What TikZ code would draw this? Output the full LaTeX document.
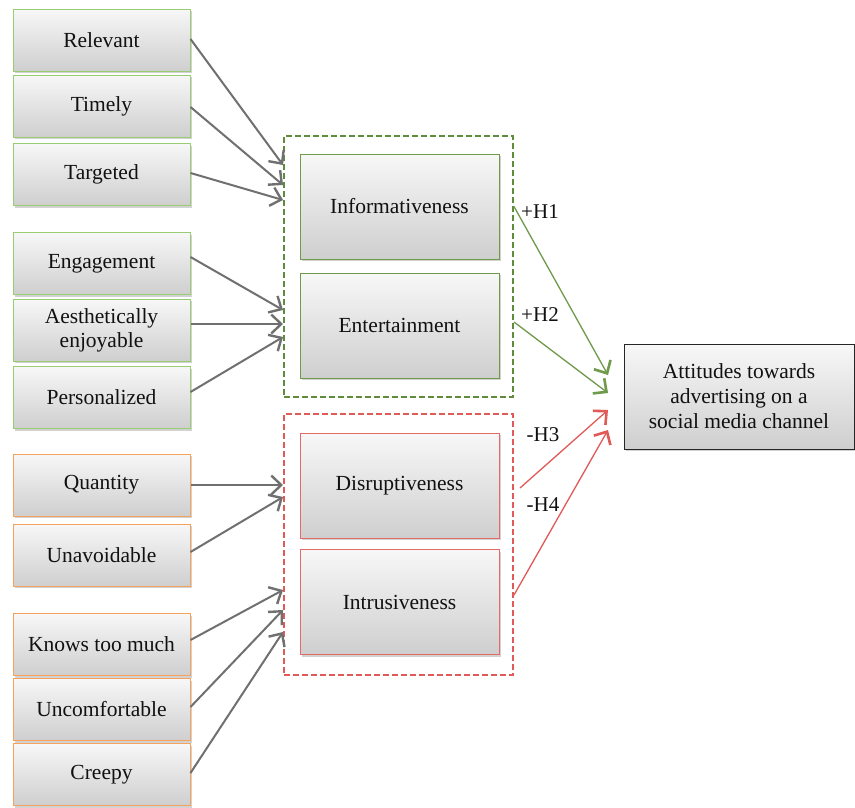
\documentclass[tikz,border=0pt]{standalone}
\usepackage{fontspec}
\setmainfont{Liberation Serif}
\usetikzlibrary{arrows.meta,shadows}
\definecolor{lgreen}{HTML}{9ACD72}
\definecolor{lorange}{HTML}{F5A35C}
\definecolor{dgreen}{HTML}{5E8C3A}
\definecolor{mgreen}{HTML}{6E9A4A}
\definecolor{lred}{HTML}{E46A66}
\definecolor{dred}{HTML}{E05A58}
\definecolor{agray}{HTML}{707070}
\definecolor{txt}{HTML}{111111}
\tikzset{
  box/.style={rectangle, top color=gray!6, bottom color=gray!38, line width=1pt,
    text=txt, align=center, font={\fontsize{21.5}{24}\selectfont},
    drop shadow={opacity=0.35, shadow xshift=1.5pt, shadow yshift=-2pt}},
  leftg/.style={box, draw=lgreen, minimum width=177pt, minimum height=62pt},
  lefto/.style={box, draw=lorange, minimum width=177pt, minimum height=62pt},
  midg/.style={box, draw=mgreen, minimum width=199pt, minimum height=105pt},
  midr/.style={box, draw=lred, minimum width=199pt, minimum height=105pt},
  group/.style={rectangle, dashed, dash pattern=on 6pt off 3pt, line width=2pt,
    minimum width=229pt, minimum height=261pt},
  garrow/.style={draw=agray, line width=2pt, -{Straight Barb[length=10pt,width=19pt,line width=2.4pt]}},
  harrow/.style={line width=1.3pt, -{Straight Barb[length=10pt,width=19pt,line width=2.6pt]}},
  hlabel/.style={text=txt, font={\fontsize{21}{23}\selectfont}, inner sep=0pt}
}
\begin{document}
\begin{tikzpicture}[x=1pt,y=-1pt]
\useasboundingbox[fill=white] (0,0) rectangle (855,807);

% left boxes
\node[leftg] (rel) at (101.5,40) {Relevant};
\node[leftg] (tim) at (101.5,106) {Timely};
\node[leftg] (tar) at (101.5,174.5) {Targeted};
\node[leftg] (eng) at (101.5,263.5) {Engagement};
\node[leftg] (aes) at (101.5,330) {Aesthetically\\enjoyable};
\node[leftg] (per) at (101.5,397.5) {Personalized};
\node[lefto] (qua) at (101.5,485) {Quantity};
\node[lefto] (una) at (101.5,555) {Unavoidable};
\node[lefto] (kno) at (101.5,644.5) {Knows too much};
\node[lefto] (unc) at (101.5,709.5) {Uncomfortable};
\node[lefto] (cre) at (101.5,774.5) {Creepy};

% groups
\node[group, draw=dgreen] (gbox) at (398.5,266.5) {};
\node[group, draw=dred] (rbox) at (398.5,544.5) {};

% middle boxes
\node[midg] (inf) at (399.5,206.5) {Informativeness};
\node[midg] (ent) at (399.5,325.5) {Entertainment};
\node[midr] (dis) at (399.5,485.5) {Disruptiveness};
\node[midr] (int) at (399.5,602) {Intrusiveness};

% outcome
\node[box, draw=black!85, minimum width=230pt, minimum height=105pt,
  font={\fontsize{21.5}{25}\selectfont}] (att) at (739,396.5)
  {Attitudes towards\\advertising on a\\social media channel};

% gray arrows
\draw[garrow] (rel.east |- 0,39) -- (gbox.west |- 0,165);
\draw[garrow] (tim.east |- 0,107) -- (gbox.west |- 0,185);
\draw[garrow] (tar.east |- 0,173) -- (gbox.west |- 0,200);
\draw[garrow] (eng.east |- 0,257) -- (gbox.west |- 0,310);
\draw[garrow] (aes.east |- 0,324) -- (gbox.west |- 0,324);
\draw[garrow] (per.east |- 0,392) -- (gbox.west |- 0,337);
\draw[garrow] (qua.east |- 0,485) -- (rbox.west |- 0,485);
\draw[garrow] (una.east |- 0,552) -- (rbox.west |- 0,497);
\draw[garrow] (kno.east |- 0,640) -- (rbox.west |- 0,590);
\draw[garrow] (unc.east |- 0,707) -- (rbox.west |- 0,610);
\draw[garrow] (cre.east |- 0,773) -- (rbox.west |- 0,632);

% hypothesis arrows
\draw[harrow, draw=mgreen] (gbox.east |- inf) -- (608,375);
\draw[harrow, draw=mgreen] (gbox.east |- 0,322) -- (608,393);
\draw[harrow, draw=dred] (520,488) -- (608,410);
\draw[harrow, draw=dred] (rbox.east |- 0,595) -- (608,430);

\node[hlabel] (h1) at (540,212) {+H1};
\node[hlabel] (h2) at (540,315) {+H2};
\node[hlabel] (h3) at (543,435) {-H3};
\node[hlabel] (h4) at (543,505) {-H4};
\end{tikzpicture}
\end{document}
